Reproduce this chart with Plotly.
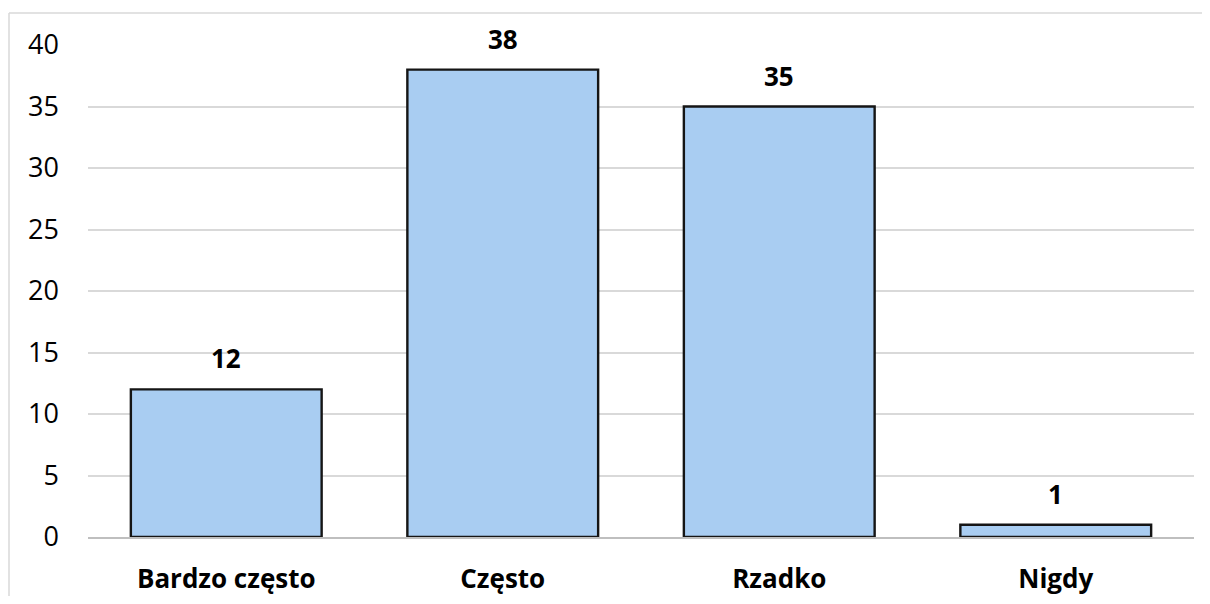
import plotly.graph_objects as go

categories = ["Bardzo często", "Często", "Rzadko", "Nigdy"]
values = [12, 38, 35, 1]
y_ticks = [0, 5, 10, 15, 20, 25, 30, 35, 40]

# page body adds an 8px offset; size the figure to fit the window
OFF = 8
W, H = 1210 - 2 * OFF, 604 - 2 * OFF
ml, mt = 88 - OFF, 45 - OFF
mr = W - (1194 - OFF)
mb = H - (537 - OFF)

FONT = "Open Sans"

fig = go.Figure()
fig.add_trace(go.Bar(
    x=categories, y=values,
    marker=dict(color="#A9CDF2", line=dict(color="#151515", width=2.4)),
    hoverinfo="skip",
))

for c, v in zip(categories, values):
    fig.add_annotation(x=c, y=v, text=f"<b>{v}</b>", showarrow=False,
                       yanchor="bottom", yshift=11,
                       font=dict(family=FONT, size=26, color="#000000"))

pw = W - ml - mr
ph = H - mt - mb
# outer chart border (top and left visible)
x0 = (9 - OFF - ml) / pw
x1 = (W + 20 - ml) / pw
y_top = 1 + (mt - (13 - OFF)) / ph
y_bot = -(mb + 20) / ph
fig.add_shape(type="line", xref="paper", yref="paper", x0=x0, x1=x1, y0=y_top, y1=y_top,
              line=dict(color="#D9D9D9", width=1.5))
fig.add_shape(type="line", xref="paper", yref="paper", x0=x0, x1=x0, y0=y_top, y1=y_bot,
              line=dict(color="#D9D9D9", width=1.5))

fig.update_layout(
    width=W, height=H,
    margin=dict(l=ml, r=mr, t=mt, b=mb),
    paper_bgcolor="white", plot_bgcolor="white",
    bargap=0.31,
    showlegend=False,
    font=dict(family=FONT, color="#000000"),
    xaxis=dict(
        showgrid=False, showline=True, linecolor="#BFBFBF", linewidth=1.5,
        ticks="", tickfont=dict(family=FONT, size=26, color="#000000", weight="bold"),
        ticklabelstandoff=18, automargin=False,
    ),
    yaxis=dict(
        range=[0, 40], tickvals=y_ticks, showgrid=True, gridcolor="#D9D9D9", gridwidth=1.5,
        zeroline=False, showline=False, ticks="",
        tickfont=dict(family=FONT, size=27, color="#000000"),
        ticklabelstandoff=28, automargin=False,
    ),
)

fig.write_html("out.html")
